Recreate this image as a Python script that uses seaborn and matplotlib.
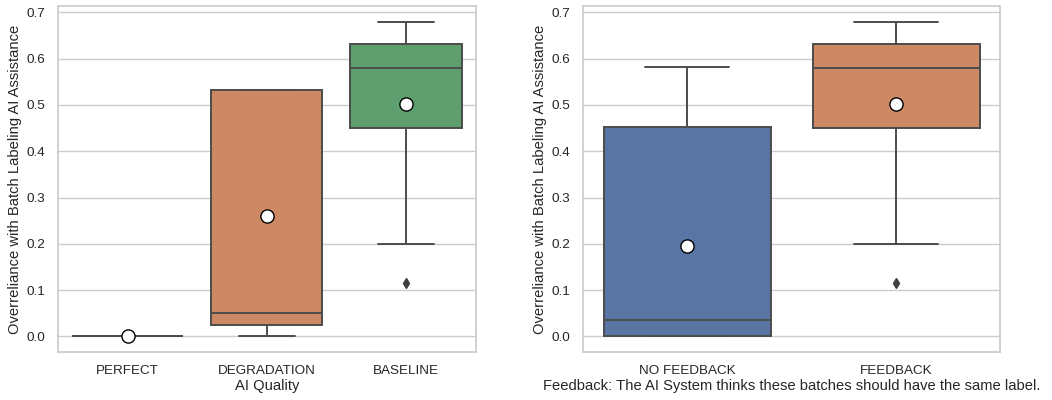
import pandas as pd
import matplotlib
matplotlib.use("Agg")
import matplotlib.pyplot as plt
import seaborn as sns

perfect = [0.0, 0.0, 0.0, 0.0, 0.0, 0.0, 0.0, 0.0, 0.0]
degradation = [0.0, 0.0, 0.0, 0.025, 0.05, 0.05, 0.05, 0.533, 0.533, 0.533, 0.533, 0.533, 0.533]
baseline = [0.115, 0.2, 0.45, 0.58, 0.58, 0.62, 0.632, 0.66, 0.68]
no_feedback = [0.0, 0.0, 0.0, 0.035, 0.035, 0.158, 0.453, 0.5, 0.582]
feedback = baseline

quality_labels = ["PERFECT", "DEGRADATION", "BASELINE"]
feedback_labels = ["NO FEEDBACK", "FEEDBACK"]

ylabel = "Overreliance with Batch Labeling AI Assistance"

df_quality = pd.concat([
    pd.DataFrame({"AI Quality": lab, "Value": vals})
    for lab, vals in zip(quality_labels, [perfect, degradation, baseline])
], ignore_index=True)

df_feedback = pd.concat([
    pd.DataFrame({"Feedback": lab, "Value": vals})
    for lab, vals in zip(feedback_labels, [no_feedback, feedback])
], ignore_index=True)

sns.set_theme(style="whitegrid")
plt.rcParams["font.family"] = ["Liberation Sans", "DejaVu Sans"]

fig = plt.figure(figsize=(10.52, 4), dpi=100)
ax1 = fig.add_axes([0.0551, 0.12, 0.397, 0.865])
ax2 = fig.add_axes([0.554, 0.12, 0.397, 0.865])

box_kws = dict(
    showmeans=True,
    linewidth=1.4,
    meanprops=dict(marker="o", markerfacecolor="white", markeredgecolor="black",
                   markersize=9.5, markeredgewidth=1),
    flierprops=dict(marker="d", markerfacecolor="#3f3f3f", markeredgecolor="#3f3f3f",
                    markersize=5),
)

sns.boxplot(data=df_quality, x="AI Quality", y="Value", hue="AI Quality",
            order=quality_labels, palette="deep", legend=False, ax=ax1, **box_kws)
sns.boxplot(data=df_feedback, x="Feedback", y="Value", hue="Feedback",
            order=feedback_labels, palette="deep", legend=False, ax=ax2, **box_kws)

ax1.set_xlabel("AI Quality", fontsize=10.6, labelpad=2)
ax2.set_xlabel("Feedback: The AI System thinks these batches should have the same label.",
               fontsize=10.6, labelpad=2)
for ax in (ax1, ax2):
    ax.set_ylabel(ylabel, fontsize=10.6, labelpad=3)
    ax.tick_params(axis="both", labelsize=9.7, pad=3)

fig.savefig("out.png", dpi=100)
